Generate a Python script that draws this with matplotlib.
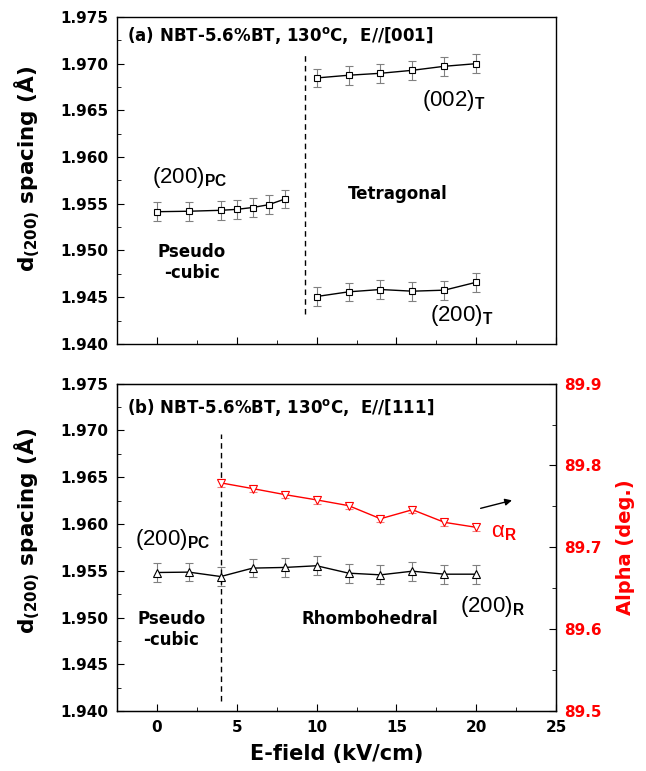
import numpy as np
import matplotlib
matplotlib.use('Agg')
import matplotlib.pyplot as plt
from matplotlib.ticker import MultipleLocator, FormatStrFormatter

# bold texts in the original are wide, DejaVu Sans Bold fits them best
plt.rcParams['font.family'] = ['DejaVu Sans']
plt.rcParams['font.weight'] = 'bold'
plt.rcParams['axes.labelweight'] = 'bold'
plt.rcParams['mathtext.fontset'] = 'custom'
plt.rcParams['mathtext.rm'] = 'Liberation Sans'
plt.rcParams['mathtext.bf'] = 'DejaVu Sans:bold'
plt.rcParams['mathtext.it'] = 'Liberation Sans:italic'
REG = ['Liberation Sans', 'DejaVu Sans']

# panel (a): E//[001]
pc_a_field = [0, 2, 4, 5, 6, 7, 8]
pc_a_d = [1.95415, 1.9542, 1.9543, 1.9544, 1.9546, 1.9549, 1.9555]
pc_a_err = [0.001] * 7

t_field = [10, 12, 14, 16, 18, 20]
t002_d = [1.96847, 1.96876, 1.96897, 1.96929, 1.96972, 1.9700]
t002_err = [0.001] * 6
t200_d = [1.94507, 1.94557, 1.94582, 1.94564, 1.94575, 1.9466]
t200_err = [0.001] * 6

# panel (b): E//[111]
b_field = [0, 2, 4, 6, 8, 10, 12, 14, 16, 18, 20]
b_d = [1.95482, 1.95486, 1.95439, 1.95529, 1.95536, 1.95554,
       1.95475, 1.95457, 1.95496, 1.95464, 1.95464]
b_err = [0.001] * 11

alpha_field = [4, 6, 8, 10, 12, 14, 16, 18, 20]
alpha_deg = [89.7788, 89.7718, 89.7645, 89.758, 89.751, 89.735, 89.746, 89.7306, 89.7245]
alpha_err = [0.0045] * 9

fig = plt.figure(figsize=(6.46, 7.71), dpi=100)
ax1 = fig.add_axes([0.181, 0.554, 0.680, 0.424])
ax2 = fig.add_axes([0.181, 0.0775, 0.680, 0.425])

ylab = r'd$_{\mathbf{(200)}}$ spacing (Å)'
sq = dict(marker='s', mfc='white', mec='black', ms=5, mew=0.8, color='black',
          lw=1.0, ecolor='#808080', elinewidth=0.8, capsize=3, capthick=0.8)

for ax in (ax1, ax2):
    ax.set_xlim(-2.5, 25)
    ax.set_ylim(1.940, 1.975)
    ax.xaxis.set_major_locator(MultipleLocator(5))
    ax.xaxis.set_minor_locator(MultipleLocator(2.5))
    ax.yaxis.set_major_locator(MultipleLocator(0.005))
    ax.yaxis.set_minor_locator(MultipleLocator(0.0025))
    ax.yaxis.set_major_formatter(FormatStrFormatter('%.3f'))
    ax.tick_params(which='both', direction='in', top=False, right=False,
                   labelsize=11, pad=6)
    ax.tick_params(which='major', length=5)
    ax.tick_params(which='minor', length=3)
    ax.set_ylabel(ylab, fontsize=15.5, fontweight='bold')
    for s in ax.spines.values():
        s.set_linewidth(1.0)

ax1.yaxis.set_label_coords(-0.17, 0.535)
ax2.yaxis.set_label_coords(-0.17, 0.55)
ax1.tick_params(labelbottom=False)

# panel (a)
ax1.errorbar(pc_a_field, pc_a_d, yerr=pc_a_err, **sq)
ax1.errorbar(t_field, t002_d, yerr=t002_err, **sq)
ax1.errorbar(t_field, t200_d, yerr=t200_err, **sq)
ax1.plot([9.3, 9.3], [1.9432, 1.9712], color='black', lw=1, ls=(0, (4, 3)))
ax1.text(-1.9, 1.9730, r'(a) NBT-5.6%BT, 130$^{\mathbf{o}}$C,  E//[001]',
         fontsize=12, va='center')
ax1.text(-0.3, 1.9572, r'(200)$_{\rm PC}$', fontsize=16, family=REG,
         fontweight='normal', va='baseline')
ax1.text(15.1, 1.9560, 'Tetragonal', fontsize=12, ha='center', va='center')
ax1.text(2.2, 1.9487, 'Pseudo\n-cubic', fontsize=12,
         ha='center', va='center', multialignment='center', linespacing=1.2)
ax1.text(16.6, 1.9655, r'(002)$_{\rm T}$', fontsize=16, family=REG,
         fontweight='normal', va='baseline')
ax1.text(17.1, 1.9424, r'(200)$_{\rm T}$', fontsize=16, family=REG,
         fontweight='normal', va='baseline')

# panel (b)
tri = dict(sq)
tri['marker'] = '^'
tri['ms'] = 6
ax2.errorbar(b_field, b_d, yerr=b_err, **tri)
ax2.plot([4, 4], [1.9411, 1.9696], color='black', lw=1, ls=(0, (4, 3)))
ax2.text(-1.85, 1.9724, r'(b) NBT-5.6%BT, 130$^{\mathbf{o}}$C,  E//[111]',
         fontsize=12, va='center')
ax2.text(-1.37, 1.9578, r'(200)$_{\rm PC}$', fontsize=16, family=REG,
         fontweight='normal', va='baseline')
ax2.text(0.92, 1.9487, 'Pseudo\n-cubic', fontsize=12,
         ha='center', va='center', multialignment='center', linespacing=1.2)
ax2.text(13.35, 1.9498, 'Rhombohedral', fontsize=12, ha='center', va='center')
ax2.text(19.0, 1.9506, r'(200)$_{\rm R}$', fontsize=16, family=REG,
         fontweight='normal', va='baseline')
ax2.annotate('', xy=(22.4, 1.9626), xytext=(20.1, 1.9616),
             arrowprops=dict(arrowstyle='-|>', color='black', lw=1,
                             mutation_scale=10))

ax3 = ax2.twinx()
ax3.set_ylim(89.5, 89.9)
ax3.yaxis.set_major_locator(MultipleLocator(0.1))
ax3.yaxis.set_minor_locator(MultipleLocator(0.05))
ax3.tick_params(which='both', direction='in', labelsize=11, labelcolor='red',
                pad=6)
ax3.tick_params(which='major', length=5)
ax3.tick_params(which='minor', length=3)
ax3.errorbar(alpha_field, alpha_deg, yerr=alpha_err, marker='v', mfc='white',
             mec='red', ms=6, mew=0.8, color='red', lw=1.0, ecolor='#f08080',
             elinewidth=0.8, capsize=3, capthick=0.8)
ax3.set_ylabel('Alpha (deg.)', fontsize=14, fontweight='bold', color='red')
ax3.yaxis.set_label_coords(1.135, 0.5)
ax2.text(20.9, 1.9586, r'α$_{\rm R}$', fontsize=16, color='red',
         family=REG, fontweight='normal', va='baseline')

ax2.set_xlabel('E-field (kV/cm)', fontsize=15, fontweight='bold', labelpad=7)

fig.savefig('out.png', dpi=100)
